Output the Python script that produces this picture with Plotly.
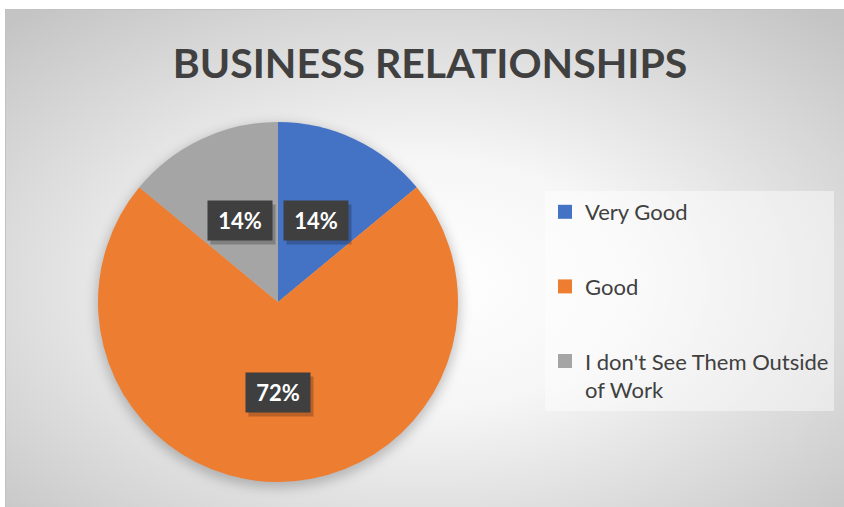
import base64
import math
import plotly.graph_objects as go

# Survey answers and their shares (percent)
categories = ["Very Good", "Good", "I don't See Them Outside of Work"]
legend_text = ["Very Good", "Good", "I don't See Them Outside<br>of Work"]
values = [14, 72, 14]
colors = ["#4472C4", "#ED7D31", "#A5A5A5"]
title_text = "BUSINESS RELATIONSHIPS"

W, H = 844, 507
# pie placement in pixels
cx, cy, R = 278, 302, 180
FONT = "Lato"
TEXT_DARK = "#404040"

# chart-area backdrop: radial white-to-grey fill plus a soft shadow under the pie
bg_x0, bg_y0 = 5, 9
bg_w, bg_h = W - bg_x0, H - bg_y0
svg = f"""<svg xmlns='http://www.w3.org/2000/svg' width='{bg_w}' height='{bg_h}' viewBox='0 0 {bg_w} {bg_h}' preserveAspectRatio='none'>
<defs>
<radialGradient id='g' cx='0.5' cy='0.55' r='0.72'>
<stop offset='0' stop-color='#ffffff'/>
<stop offset='0.35' stop-color='#f6f6f6'/>
<stop offset='1' stop-color='#c4c4c4'/>
</radialGradient>
<filter id='b' x='-20%' y='-20%' width='140%' height='140%'><feGaussianBlur stdDeviation='6'/></filter>
</defs>
<rect x='0' y='0' width='{bg_w}' height='{bg_h}' fill='url(#g)'/>
<rect x='0.5' y='0.5' width='{bg_w}' height='{bg_h}' fill='none' stroke='#c2c2c2' stroke-width='1'/>
<circle cx='{cx - bg_x0}' cy='{cy - bg_y0 + 4}' r='{R + 2}' fill='#000000' fill-opacity='0.22' filter='url(#b)'/>
</svg>"""
bg_src = "data:image/svg+xml;base64," + base64.b64encode(svg.encode()).decode()

fig = go.Figure()

fig.add_trace(go.Pie(
    labels=categories,
    values=values,
    marker=dict(colors=colors, line=dict(width=0)),
    sort=False,
    direction="clockwise",
    rotation=0,
    textinfo="none",
    hoverinfo="skip",
    showlegend=False,
    domain=dict(x=[(cx - R) / W, (cx + R) / W],
                y=[(H - cy - R) / H, (H - cy + R) / H]),
))

# legend entries, one group each so they can be spaced apart
for name, txt, col in zip(categories, legend_text, colors):
    fig.add_trace(go.Scatter(
        x=[None], y=[None], mode="markers", name=txt,
        legendgroup=name,
        marker=dict(symbol="square", size=14, color=col, line=dict(width=0)),
        hoverinfo="skip",
    ))

# percentage labels placed at half radius on each slice's mid-angle
total = sum(values)
annotations = []
cum = 0.0
for v in values:
    mid = (cum + v / 2) / total * 2 * math.pi
    cum += v
    px = cx + 0.5 * R * math.sin(mid)
    py = cy - 0.5 * R * math.cos(mid)
    ax, ay = px / W, 1 - py / H
    box = dict(x=ax, y=ay, xref="paper", yref="paper",
               showarrow=False, xanchor="center", yanchor="middle",
               width=56, height=31, borderpad=4)
    # drop shadow box (no text)
    annotations.append(dict(
        box, text=" ",
        font=dict(family=FONT, size=22, color="rgba(0,0,0,0)"),
        bgcolor="rgba(0,0,0,0.22)", xshift=3, yshift=-4,
    ))
    annotations.append(dict(
        box, text=f"<b>{round(v / total * 100)}%</b>",
        font=dict(family=FONT, size=22, color="#ffffff"),
        bgcolor="#3f3f3f",
    ))

fig.update_layout(
    width=W, height=H,
    margin=dict(l=0, r=0, t=0, b=0),
    paper_bgcolor="#ffffff",
    plot_bgcolor="rgba(0,0,0,0)",
    xaxis=dict(visible=False),
    yaxis=dict(visible=False),
    title=dict(
        text=f"<b>{title_text}</b>",
        x=430 / W, xanchor="center",
        y=1 - 64 / H, yanchor="middle",
        font=dict(family=FONT, size=41, color=TEXT_DARK),
    ),
    legend=dict(
        x=545 / W, xanchor="left",
        y=1 - 191 / H, yanchor="top",
        bgcolor="rgba(255,255,255,0.45)",
        borderwidth=0,
        font=dict(family=FONT, size=22, color=TEXT_DARK),
        tracegroupgap=43,
        itemsizing="trace",
        valign="top",
        traceorder="grouped",
    ),
    images=[dict(
        source=bg_src, xref="paper", yref="paper",
        x=bg_x0 / W, y=1 - bg_y0 / H, sizex=bg_w / W, sizey=bg_h / H,
        xanchor="left", yanchor="top", sizing="stretch", layer="below",
    )],
    annotations=annotations,
    hovermode=False,
)

fig.write_html("out.html")
